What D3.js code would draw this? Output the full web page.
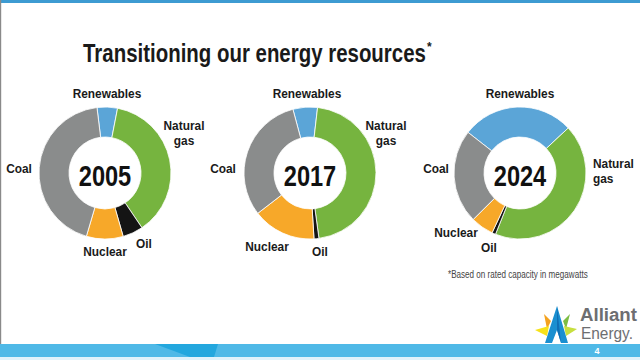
<!DOCTYPE html>
<html><head><meta charset="utf-8">
<script src="https://cdn.jsdelivr.net/npm/d3@7"></script>
<style>
html,body{margin:0;padding:0;background:#fff;}
svg{display:block;}
text{font-family:"Liberation Sans","Arial","Roboto",sans-serif;}
</style></head>
<body>
<svg id="chart" width="640" height="360"></svg>
<script>
// ---- data ----
const categories = ["Renewables", "Natural gas", "Oil", "Nuclear", "Coal"];
const years = ["2005", "2017", "2024"];
const share2005 = [5, 37.5, 5, 9, 43.5];
const share2017 = [6, 46, 1.2, 15.5, 31.3];
const share2024 = [27.5, 43, 0.9, 5.6, 23];
const title = "Transitioning our energy resources";
const footnote = "*Based on rated capacity in megawatts";
const pageNumber = "4";

// ---- styles / layout ----
const colors = d3.scaleOrdinal().domain(categories)
  .range(["#5ba5d7", "#76b43f", "#141414", "#f7a829", "#8a8c8c"]);
const svg = d3.select("#chart");

// condensed text helper: horizontal scale applied around the anchor point
function ctext(x, y, str, size, weight, anchor, sx, fill, fitWidth) {
  const g = svg.append("g");
  const t = g.append("text").attr("text-anchor", anchor || "middle")
    .attr("font-size", size).attr("font-weight", weight || "normal")
    .attr("fill", fill || "#1a1a1a").text(str);
  let s = sx || 1;
  if (fitWidth) s = fitWidth / t.node().getComputedTextLength();
  g.attr("transform", `translate(${x},${y}) scale(${s},1)`);
  return {g, t, s};
}

// frame
svg.append("rect").attr("x", 0).attr("y", 0).attr("width", 640).attr("height", 3).attr("fill", "#3d9bd2");
svg.append("rect").attr("x", 0).attr("y", 0).attr("width", 1.2).attr("height", 344).attr("fill", "#8a8a8a");
svg.append("rect").attr("x", 0).attr("y", 344).attr("width", 640).attr("height", 13).attr("fill", "#4fb9e7");
svg.append("path").attr("d", "M155,344 L218,344 L214,357 L190,357 Z").attr("fill", "#23a7de");
svg.append("rect").attr("x", 0).attr("y", 357).attr("width", 640).attr("height", 3).attr("fill", "#dff2fb");
ctext(597, 354, pageNumber, 9, "bold", "middle", 1, "#fff");

// title
ctext(83, 62, title, 26.5, "bold", "start", null, "#1a1a1a", 343);
ctext(427, 51, "*", 12, "bold", "start", 1, "#1a1a1a");

// donuts
const charts = [
  {year: years[0], values: share2005, cx: 105, cy: 173, start: -7,
   labels: [
     {lines: ["Renewables"], x: 107, y: 98, anchor: "middle"},
     {lines: ["Natural", "gas"], x: 184, y: 130, anchor: "middle"},
     {lines: ["Oil"], x: 144, y: 248, anchor: "middle"},
     {lines: ["Nuclear"], x: 105, y: 256, anchor: "middle"},
     {lines: ["Coal"], x: 19, y: 173, anchor: "middle"}]},
  {year: years[1], values: share2017, cx: 310, cy: 173, start: -15,
   labels: [
     {lines: ["Renewables"], x: 307, y: 98, anchor: "middle"},
     {lines: ["Natural", "gas"], x: 386, y: 130, anchor: "middle"},
     {lines: ["Oil"], x: 320, y: 256, anchor: "middle"},
     {lines: ["Nuclear"], x: 267, y: 251, anchor: "middle"},
     {lines: ["Coal"], x: 223, y: 173, anchor: "middle"}]},
  {year: years[2], values: share2024, cx: 520, cy: 173, start: -52,
   labels: [
     {lines: ["Renewables"], x: 520, y: 98, anchor: "middle"},
     {lines: ["Natural", "gas"], x: 593, y: 168, anchor: "start"},
     {lines: ["Oil"], x: 489, y: 252, anchor: "middle"},
     {lines: ["Nuclear"], x: 456, y: 237, anchor: "middle"},
     {lines: ["Coal"], x: 436, y: 173, anchor: "middle"}]}
];

const rOuter = 66, rInner = 36;
const arc = d3.arc().innerRadius(rInner).outerRadius(rOuter);

charts.forEach(ch => {
  const a0 = ch.start * Math.PI / 180;
  const pie = d3.pie().sort(null).value(d => d.v).startAngle(a0).endAngle(a0 + 2 * Math.PI);
  const data = pie(categories.map((c, i) => ({c, v: ch.values[i]})));
  const g = svg.append("g").attr("transform", `translate(${ch.cx},${ch.cy})`);
  g.selectAll("path").data(data).join("path")
    .attr("d", arc).attr("fill", d => colors(d.data.c))
    .attr("stroke", "#fff").attr("stroke-width", 0.8);
  ctext(ch.cx, ch.cy + 13, ch.year, 29.5, "bold", "middle", 0.8, "#111");
  ch.labels.forEach(l => {
    l.lines.forEach((ln, i) => {
      ctext(l.x, l.y + i * 15, ln, 13.5, "bold", l.anchor, 0.88, "#1a1a1a");
    });
  });
});

// footnote
ctext(448, 278, footnote, 10, "normal", "start", null, "#444", 140);

// logo
const logo = svg.append("g");
logo.append("path").attr("d", "M544,314 L551,321 L547,329 Z").attr("fill", "#f4a21f");
logo.append("path").attr("d", "M570,314 L563,321 L566,329 Z").attr("fill", "#7dbd42");
logo.append("path").attr("d", "M535,330 L549,326 L547,336 Z").attr("fill", "#f6e21a");
logo.append("path").attr("d", "M577,329 L564,326 L566,336 Z").attr("fill", "#c7df3f");
logo.append("path").attr("d", "M557,306 L568,343 L561,343 L557,330 L552,343 L545,343 Z").attr("fill", "#1a8fd0");
logo.append("path").attr("d", "M557,306 L561,343 L557,330 Z").attr("fill", "#0f6fb5");
ctext(580, 321, "Alliant", 19, "bold", "start", null, "#6d6e71", 57);
ctext(581, 339, "Energy.", 16, "normal", "start", null, "#6d6e71", 52);
</script>
</body></html>
